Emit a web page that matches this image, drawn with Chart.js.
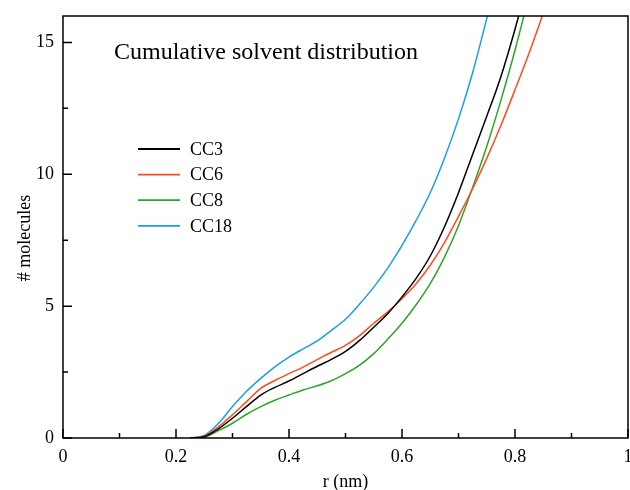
<!DOCTYPE html>
<html>
<head>
<meta charset="utf-8">
<script src="https://cdn.jsdelivr.net/npm/chart.js@4.4.0/dist/chart.umd.min.js"></script>
<style>
  html, body { margin: 0; padding: 0; background: #fff; }
  #wrap { width: 630px; height: 490px; position: relative; }
</style>
</head>
<body>
<div id="wrap"><canvas id="grafico"></canvas></div>
<script>
'use strict';

// r (nm) sampling
const rValues = [0.225, 0.25, 0.275, 0.3, 0.325, 0.35, 0.375, 0.4, 0.425, 0.45, 0.475, 0.5,
  0.525, 0.55, 0.575, 0.6, 0.625, 0.65, 0.675, 0.7, 0.725, 0.75, 0.775, 0.8, 0.825, 0.85];

const cc3 = [0, 0.05, 0.35, 0.75, 1.2, 1.63, 1.92, 2.16, 2.44, 2.72, 2.98, 3.28,
  3.7, 4.2, 4.72, 5.35, 6.05, 6.9, 8.0, 9.3, 10.75, 12.2, 13.7, 15.5, 17.5, null];
const cc6 = [0, 0.07, 0.42, 0.88, 1.38, 1.88, 2.18, 2.44, 2.69, 2.97, 3.25, 3.51,
  3.88, 4.35, 4.78, 5.28, 5.85, 6.55, 7.4, 8.4, 9.45, 10.6, 11.85, 13.2, 14.6, 16.1];
const cc8 = [0, 0.03, 0.28, 0.56, 0.9, 1.19, 1.43, 1.63, 1.82, 1.98, 2.17, 2.44,
  2.76, 3.2, 3.75, 4.35, 5.05, 5.85, 6.85, 8.05, 9.5, 11.05, 12.8, 14.7, 16.8, null];
const cc18 = [0, 0.1, 0.55, 1.19, 1.77, 2.26, 2.7, 3.07, 3.38, 3.68, 4.08, 4.5,
  5.08, 5.72, 6.45, 7.3, 8.25, 9.3, 10.6, 12.1, 13.85, 15.9, 18.0, null, null, null];

const seriesNames = ['CC3', 'CC6', 'CC8', 'CC18'];
const seriesColors = ['#000000', '#ff4b1f', '#2ea52a', '#1a9fe3'];

const xTicks = [0, 0.2, 0.4, 0.6, 0.8, 1];
const xMinor = [0.1, 0.3, 0.5, 0.7, 0.9];
const yTicks = [0, 5, 10, 15];
const yMinor = [2.5, 7.5, 12.5];

const titleText = 'Cumulative solvent distribution';
const FONT = "'Liberation Serif', 'DejaVu Serif', serif";

function toPoints(vals) {
  const pts = [];
  vals.forEach((v, i) => { if (v !== null) pts.push({ x: rValues[i], y: v }); });
  return pts;
}

// ticks inward, box, legend, titles
const decor = {
  id: 'decor',
  afterDraw(chart) {
    const { ctx, chartArea: a, scales: { x, y } } = chart;
    ctx.save();
    ctx.strokeStyle = '#000';
    ctx.lineWidth = 1.5;
    ctx.strokeRect(a.left, a.top, a.right - a.left, a.bottom - a.top);

    ctx.beginPath();
    xTicks.forEach(v => { const px = x.getPixelForValue(v); ctx.moveTo(px, a.bottom); ctx.lineTo(px, a.bottom - 9); });
    xMinor.forEach(v => { const px = x.getPixelForValue(v); ctx.moveTo(px, a.bottom); ctx.lineTo(px, a.bottom - 5); });
    yTicks.forEach(v => { const py = y.getPixelForValue(v); ctx.moveTo(a.left, py); ctx.lineTo(a.left + 9, py); });
    yMinor.forEach(v => { const py = y.getPixelForValue(v); ctx.moveTo(a.left, py); ctx.lineTo(a.left + 5, py); });
    ctx.stroke();

    // title inside plot
    ctx.fillStyle = '#000';
    ctx.font = '24px ' + FONT;
    ctx.textAlign = 'left';
    ctx.textBaseline = 'alphabetic';
    ctx.fillText(titleText, 114, 59);

    // legend
    ctx.font = '18px ' + FONT;
    ctx.textBaseline = 'middle';
    seriesNames.forEach((name, i) => {
      const ly = 149 + i * 25.6;
      ctx.strokeStyle = seriesColors[i];
      ctx.lineWidth = 1.8;
      ctx.beginPath();
      ctx.moveTo(138, ly);
      ctx.lineTo(180, ly);
      ctx.stroke();
      ctx.fillText(name, 190, ly + 1);
    });

    // axis titles
    ctx.textAlign = 'center';
    ctx.fillText('r (nm)', (a.left + a.right) / 2, 482);
    ctx.translate(25, 238);
    ctx.rotate(-Math.PI / 2);
    ctx.fillText('# molecules', 0, 0);
    ctx.restore();
  }
};

const datasets = [cc3, cc6, cc8, cc18].map((vals, i) => ({
  label: seriesNames[i],
  data: toPoints(vals),
  borderColor: seriesColors[i],
  borderWidth: 1.5,
  pointRadius: 0,
  showLine: true,
  cubicInterpolationMode: 'monotone',
  fill: false,
  clip: 0
}));

new Chart(document.getElementById('grafico'), {
  type: 'scatter',
  data: { datasets },
  plugins: [decor],
  options: {
    responsive: true,
    maintainAspectRatio: false,
    animation: false,
    layout: { padding: { left: 0, right: 2, top: 16, bottom: 0 } },
    plugins: { legend: { display: false }, tooltip: { enabled: false } },
    scales: {
      x: {
        type: 'linear', min: 0, max: 1,
        afterBuildTicks: s => { s.ticks = xTicks.map(v => ({ value: v })); },
        afterFit: s => { s.height = 52; s.paddingLeft = 0; s.paddingRight = 0; },
        grid: { display: false, drawTicks: false },
        border: { display: false },
        ticks: { color: '#000', padding: 8, maxRotation: 0, font: { family: FONT, size: 18 },
          callback: v => String(v) }
      },
      y: {
        type: 'linear', min: 0, max: 16,
        afterBuildTicks: s => { s.ticks = yTicks.map(v => ({ value: v })); },
        afterFit: s => { s.width = 63; s.paddingTop = 0; s.paddingBottom = 0; },
        grid: { display: false, drawTicks: false },
        border: { display: false },
        ticks: { color: '#000', padding: 9, font: { family: FONT, size: 18 } }
      }
    }
  }
});
</script>
</body>
</html>
